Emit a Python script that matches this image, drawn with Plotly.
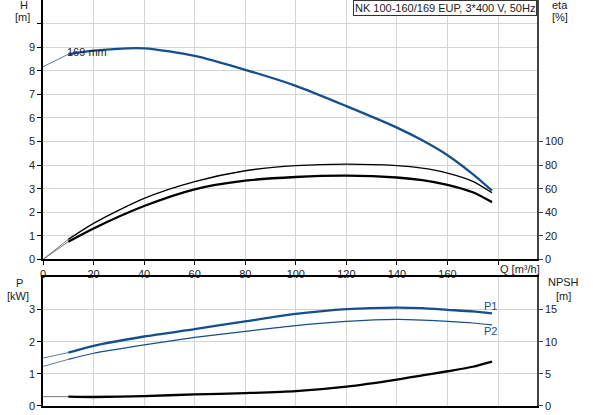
import plotly.graph_objects as go

# ---- data ----
q = [0, 10, 20, 40, 60, 80, 100, 120, 140, 150, 160, 170, 177.6]
head_m = [8.17, 8.70, 8.85, 8.95, 8.63, 8.04, 7.36, 6.50, 5.59, 5.05, 4.42, 3.62, 2.92]
eta_pump = [0, 17, 30.6, 51.8, 66, 75.2, 79.5, 80.9, 79.6, 77.4, 73.2, 66.2, 56.5]
eta_total = [0, 15, 26.3, 45.3, 59.5, 66.8, 69.9, 71, 69.5, 67.3, 63.3, 57, 48.6]
p1_kw = [1.49, 1.66, 1.87, 2.16, 2.39, 2.63, 2.86, 3.01, 3.06, 3.04, 2.99, 2.94, 2.88]
p2_kw = [1.23, 1.45, 1.64, 1.90, 2.13, 2.32, 2.50, 2.63, 2.69, 2.67, 2.63, 2.58, 2.52]
npsh_m = [1.45, 1.45, 1.4, 1.55, 1.8, 2.0, 2.3, 3.0, 4.1, 4.75, 5.4, 6.1, 6.9]

x_ticks = [0, 20, 40, 60, 80, 100, 120, 140, 160, 180]
x_ticktext = ["0", "20", "40", "60", "80", "100", "120", "140", "160", ""]
h_ticks = list(range(0, 11))
h_ticktext = [str(v) for v in range(0, 10)] + [""]
eta_ticks = [0, 20, 40, 60, 80, 100]
p_ticks = [0, 1, 2, 3]
npsh_ticks = [0, 5, 10, 15]

title_text = "NK 100-160/169 EUP, 3*400 V, 50Hz"
curve_label = "169 mm"

BLUE = "#154f8d"
FONT = "Liberation Sans, Arial, sans-serif"

fig = go.Figure()


def add_curve(ys, color, width, xa, ya, thin_color):
    # thin part outside the operating range, thick part inside
    fig.add_trace(go.Scatter(x=q[:2], y=ys[:2], mode="lines", xaxis=xa, yaxis=ya,
                             line=dict(color=thin_color, width=1), showlegend=False,
                             hoverinfo="skip"))
    fig.add_trace(go.Scatter(x=q[1:], y=ys[1:], mode="lines", xaxis=xa, yaxis=ya,
                             line=dict(color=color, width=width, shape="spline", smoothing=0.7),
                             showlegend=False))


add_curve(head_m, BLUE, 2.3, "x", "y", "#5a7fa8")
add_curve(eta_pump, "black", 1.3, "x", "y2", "#777777")
add_curve(eta_total, "black", 2.3, "x", "y2", "#777777")
add_curve(p1_kw, BLUE, 2.3, "x2", "y3", "#5a7fa8")
add_curve(p2_kw, BLUE, 1.2, "x2", "y3", "#5a7fa8")
add_curve(npsh_m, "black", 2.3, "x2", "y4", "#777777")

tickfont = dict(family=FONT, size=11, color="#222222")
grid = "#d4d4d4"

fig.update_layout(
    width=593, height=415,
    margin=dict(l=43, r=56, t=0, b=9, autoexpand=False),
    paper_bgcolor="white", plot_bgcolor="white",
    font=dict(family=FONT, size=11, color="#222222"),
    xaxis=dict(domain=[0, 1], anchor="y", range=[0, 195.4], tickvals=x_ticks, ticktext=x_ticktext,
               showgrid=True, gridcolor=grid, gridwidth=1.3, showline=True, linecolor="black",
               linewidth=1.5, ticks="outside", ticklen=4, tickcolor="black", tickfont=tickfont,
               zeroline=False),
    yaxis=dict(domain=[0.361, 1], anchor="x", range=[0, 11], tickvals=h_ticks, ticktext=h_ticktext,
               showgrid=True, gridcolor=grid, gridwidth=1.3, showline=True, linecolor="black",
               linewidth=1.5, ticks="outside", ticklen=4, tickcolor="black", tickfont=tickfont,
               zeroline=False),
    yaxis2=dict(overlaying="y", side="right", anchor="x", range=[0, 220], tickvals=eta_ticks,
                showgrid=False, showline=True, linecolor="#444444", linewidth=1.5,
                ticks="outside", ticklen=4, tickcolor="#444444", tickfont=tickfont, zeroline=False),
    xaxis2=dict(domain=[0, 1], anchor="y3", range=[0, 195.4], tickvals=x_ticks,
                showticklabels=False, showgrid=True, gridcolor=grid, gridwidth=1.3,
                showline=True, linecolor="black", linewidth=1.5, mirror=True, zeroline=False),
    yaxis3=dict(domain=[0, 0.317], anchor="x2", range=[0, 4], tickvals=p_ticks,
                showgrid=True, gridcolor=grid, gridwidth=1.3, showline=True, linecolor="black",
                linewidth=1.5, ticks="outside", ticklen=4, tickcolor="black", tickfont=tickfont,
                zeroline=False),
    yaxis4=dict(overlaying="y3", side="right", anchor="x2", range=[0, 20], tickvals=npsh_ticks,
                showgrid=False, showline=True, linecolor="#444444", linewidth=1.5,
                ticks="outside", ticklen=4, tickcolor="#444444", tickfont=tickfont, zeroline=False),
)

def pan(text, x, y, xanchor="center"):
    fig.add_annotation(text=text, xref="paper", yref="paper", x=x, y=y, xanchor=xanchor,
                       yanchor="middle", showarrow=False,
                       font=dict(family=FONT, size=11, color="#222222"))

pan("H", -0.0384, 0.988)
pan("[m]", -0.0405, 0.958)
pan("eta", 1.0457, 0.988)
pan("[%]", 1.0457, 0.958)
pan("P", -0.0485, 0.303)
pan("[kW]", -0.0505, 0.271)
pan("NPSH", 1.054, 0.305)
pan("[m]", 1.054, 0.271)
pan("Q [m³/h]", 0.965, 0.337)

fig.add_annotation(text=title_text, xref="paper", yref="paper", x=0.999, y=0.999,
                   xanchor="right", yanchor="top", showarrow=False, bgcolor="white",
                   bordercolor="#333333", borderwidth=1, borderpad=1,
                   font=dict(family=FONT, size=11, color="#222222"))

fig.add_annotation(text=curve_label, x=17.5, y=8.8, xref="x", yref="y", showarrow=False,
                   font=dict(family=FONT, size=11, color="#222222"))
fig.add_annotation(text="P1", x=177.2, y=3.1, xref="x2", yref="y3", showarrow=False,
                   font=dict(family=FONT, size=11, color=BLUE))
fig.add_annotation(text="P2", x=177.2, y=2.33, xref="x2", yref="y3", showarrow=False,
                   font=dict(family=FONT, size=11, color=BLUE))

fig.write_html(
    "out.html",
    config={"displayModeBar": False},
    post_script="document.body.style.margin='0';document.body.style.overflow='hidden';",
)
